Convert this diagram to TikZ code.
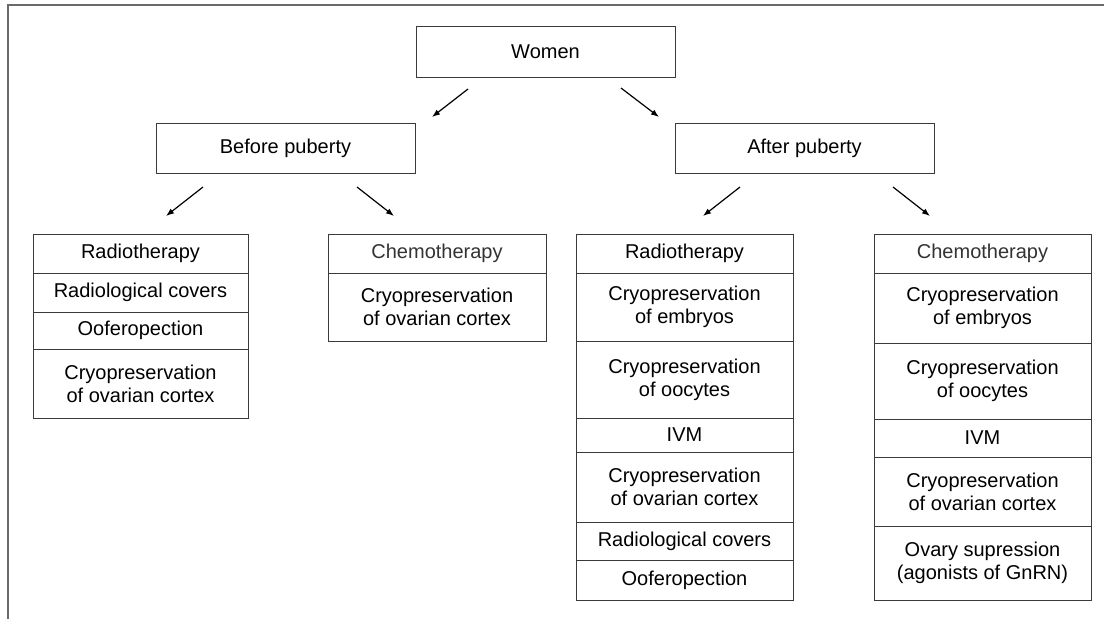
\documentclass[tikz,border=0pt]{standalone}
\usepackage{fontspec}
\setmainfont{Liberation Sans}
\usetikzlibrary{arrows.meta}
\definecolor{boxgray}{HTML}{3A3A3A}
\definecolor{framegray}{HTML}{6A6A6A}
\definecolor{chemogray}{HTML}{333333}
\tikzset{
  cell/.style={draw=boxgray, line width=1pt, inner sep=0pt, align=center,
    font=\fontsize{20}{23}\selectfont, text=black},
  chemo/.style={text=chemogray},
  arr/.style={line width=1.2pt, -{Latex[length=8pt,width=6pt]}},
}
\begin{document}
\begin{tikzpicture}[x=1pt,y=-1pt]
\useasboundingbox (0,0) rectangle (1104,619);
\fill[white] (0,0) rectangle (1104,619);
\draw[framegray, line width=1.6pt] (8,619) -- (8,5) -- (1104,5);

% top level
\node[cell, minimum width=259pt, minimum height=51.5pt] (women) at (545.5,51.75) {Women};
\node[cell, minimum width=259pt, minimum height=50pt] (before) at (285.5,148) {Before puberty};
\node[cell, minimum width=259pt, minimum height=50pt] (after) at (804.5,148) {After puberty};

% arrow coordinates
\coordinate (wb1) at (468,89);   \coordinate (wb2) at (432,117);
\coordinate (wa1) at (621,88);   \coordinate (wa2) at (659,117);
\coordinate (bl1) at (203,187);  \coordinate (bl2) at (166,216);
\coordinate (br1) at (357,187);  \coordinate (br2) at (394,216);
\coordinate (al1) at (740,187);  \coordinate (al2) at (703,216);
\coordinate (ar1) at (893,187);  \coordinate (ar2) at (930,216);
\draw[arr] (wb1) -- (wb2);
\draw[arr] (wa1) -- (wa2);
\draw[arr] (bl1) -- (bl2);
\draw[arr] (br1) -- (br2);
\draw[arr] (al1) -- (al2);
\draw[arr] (ar1) -- (ar2);

% Box A: before puberty, radiotherapy
\node[cell, minimum width=215pt, minimum height=39pt] (a1) at (140.5,253.5) {Radiotherapy};
\node[cell, minimum width=215pt, minimum height=39pt] (a2) at (140.5,292.5) {Radiological covers};
\node[cell, minimum width=215pt, minimum height=37pt] (a3) at (140.5,330.5) {Ooferopection};
\node[cell, minimum width=215pt, minimum height=69pt] (a4) at (140.5,383.5) {Cryopreservation\\of ovarian cortex};

% Box B: before puberty, chemotherapy
\node[cell, chemo, minimum width=218pt, minimum height=39pt] (b1) at (437,253.5) {Chemotherapy};
\node[cell, minimum width=218pt, minimum height=68pt] (b2) at (437,307) {Cryopreservation\\of ovarian cortex};

% Box C: after puberty, radiotherapy
\node[cell, minimum width=217pt, minimum height=39pt] (c1) at (684.5,253.5) {Radiotherapy};
\node[cell, minimum width=217pt, minimum height=68pt] (c2) at (684.5,307) {Cryopreservation\\of embryos};
\node[cell, minimum width=217pt, minimum height=77pt] (c3) at (684.5,379.5) {Cryopreservation\\of oocytes};
\node[cell, minimum width=217pt, minimum height=34pt] (c4) at (684.5,435) {IVM};
\node[cell, minimum width=217pt, minimum height=70pt] (c5) at (684.5,487) {Cryopreservation\\of ovarian cortex};
\node[cell, minimum width=217pt, minimum height=38pt] (c6) at (684.5,541) {Radiological covers};
\node[cell, minimum width=217pt, minimum height=40pt] (c7) at (684.5,580) {Ooferopection};

% Box D: after puberty, chemotherapy
\node[cell, chemo, minimum width=217pt, minimum height=39pt] (d1) at (982.5,253.5) {\raisebox{1.5pt}{Chemotherapy}};
\node[cell, minimum width=217pt, minimum height=70pt] (d2) at (982.5,308) {Cryopreservation\\of embryos};
\node[cell, minimum width=217pt, minimum height=76pt] (d3) at (982.5,381) {Cryopreservation\\of oocytes};
\node[cell, minimum width=217pt, minimum height=38pt] (d4) at (982.5,438) {IVM};
\node[cell, minimum width=217pt, minimum height=69pt] (d5) at (982.5,491.5) {Cryopreservation\\of ovarian cortex};
\node[cell, minimum width=217pt, minimum height=74pt] (d6) at (982.5,563) {Ovary supression\\(agonists of GnRN)};
\end{tikzpicture}
\end{document}
